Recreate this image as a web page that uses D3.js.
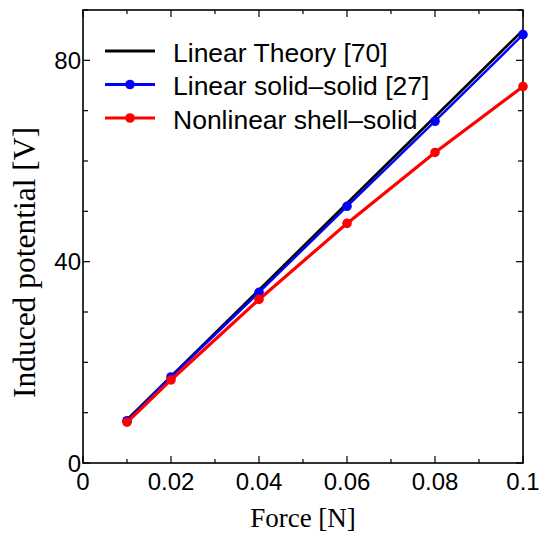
<!DOCTYPE html>
<html>
<head>
<meta charset="utf-8">
<script src="https://cdn.jsdelivr.net/npm/d3@7"></script>
<style>
  body { margin: 0; background: #fff; }
</style>
</head>
<body>
<svg id="chart" width="549" height="533"></svg>
<script>
const forces = [0.01, 0.02, 0.04, 0.06, 0.08, 0.1];
const linearTheory = [8.6, 17.2, 34.4, 51.6, 68.8, 86.0];
const linearSolid = [8.4, 17.1, 33.9, 51.0, 67.9, 85.1];
const nonlinearShell = [8.1, 16.5, 32.5, 47.6, 61.7, 74.8];
const xTicks = [0, 0.02, 0.04, 0.06, 0.08, 0.1];
const yTicks = [0, 40, 80];

const margin = { top: 10, right: 26, bottom: 70, left: 83 },
      width = 549 - margin.left - margin.right,
      height = 533 - margin.top - margin.bottom;

const svg = d3.select("#chart")
  .append("g")
  .attr("transform", `translate(${margin.left},${margin.top})`);

const x = d3.scaleLinear().domain([0, 0.1]).range([0, width]);
const y = d3.scaleLinear().domain([0, 90]).range([height, 0]);

const minorX = d3.range(0, 11).map(i => i / 100);
const minorY = d3.range(0, 10).map(i => i * 10);

// ticks pointing inwards, all four sides
const tickG = svg.append("g").attr("stroke", "#000").attr("stroke-width", 1.2);
minorX.forEach(v => {
  const len = xTicks.some(t => Math.abs(t - v) < 1e-9) ? 7 : 4;
  tickG.append("line").attr("x1", x(v)).attr("x2", x(v)).attr("y1", height).attr("y2", height - len);
  tickG.append("line").attr("x1", x(v)).attr("x2", x(v)).attr("y1", 0).attr("y2", len);
});
minorY.forEach(v => {
  const len = yTicks.includes(v) ? 7 : 5;
  tickG.append("line").attr("y1", y(v)).attr("y2", y(v)).attr("x1", 0).attr("x2", len);
  tickG.append("line").attr("y1", y(v)).attr("y2", y(v)).attr("x1", width).attr("x2", width - len);
});

// frame
svg.append("rect")
  .attr("width", width).attr("height", height)
  .attr("fill", "none").attr("stroke", "#000").attr("stroke-width", 1.6);

// tick labels
svg.append("g").selectAll("text")
  .data(xTicks).join("text")
  .attr("x", d => x(d)).attr("y", height + 27)
  .attr("text-anchor", "middle")
  .style("font-family", "'Liberation Sans', Arial, sans-serif")
  .style("font-size", "24px")
  .text(d => d3.format("~g")(d));

svg.append("g").selectAll("text")
  .data(yTicks).join("text")
  .attr("x", -2).attr("y", d => y(d) + 8.6)
  .attr("text-anchor", "end")
  .style("font-family", "'Liberation Sans', Arial, sans-serif")
  .style("font-size", "24px")
  .text(d => d);

// axis titles
svg.append("text")
  .attr("x", width / 2).attr("y", height + 64)
  .attr("text-anchor", "middle")
  .style("font-family", "'Liberation Serif', 'Times New Roman', serif")
  .style("font-size", "27px")
  .text("Force [N]");

svg.append("text")
  .attr("transform", "rotate(-90)")
  .attr("x", -(262.5 - margin.top)).attr("y", -48)
  .attr("text-anchor", "middle")
  .style("font-family", "'Liberation Serif', 'Times New Roman', serif")
  .style("font-size", "31.5px")
  .text("Induced potential [V]");

const line = d3.line().x(d => x(d[0])).y(d => y(d[1]));

const series = [
  { name: "Linear Theory [70]", values: linearTheory, color: "#000", width: 2.6, dots: false },
  { name: "Linear solid\u2013solid [27]", values: linearSolid, color: "#0000ff", width: 2.4, dots: true },
  { name: "Nonlinear shell\u2013solid", values: nonlinearShell, color: "#ff0000", width: 3.2, dots: true }
];

series.forEach(s => {
  const pts = forces.map((f, i) => [f, s.values[i]]);
  svg.append("path")
    .attr("d", line(pts))
    .attr("fill", "none")
    .attr("stroke", s.color)
    .attr("stroke-width", s.width);
  if (s.dots) {
    svg.append("g").selectAll("circle")
      .data(pts).join("circle")
      .attr("cx", d => x(d[0])).attr("cy", d => y(d[1]))
      .attr("r", 4.8)
      .attr("fill", s.color);
  }
});

// legend
const legend = svg.append("g").attr("transform", "translate(22,41)");
series.forEach((s, i) => {
  const g = legend.append("g").attr("transform", `translate(0,${i * 33.5})`);
  g.append("line").attr("x1", 0).attr("x2", 50)
    .attr("stroke", s.color).attr("stroke-width", 3);
  if (s.dots) g.append("circle").attr("cx", 25).attr("r", 4.8).attr("fill", s.color);
  g.append("text")
    .attr("x", 68).attr("y", 10.5)
    .style("font-family", "'Liberation Sans', Arial, sans-serif")
    .style("font-size", "26.5px")
    .text(s.name);
});
</script>
</body>
</html>
